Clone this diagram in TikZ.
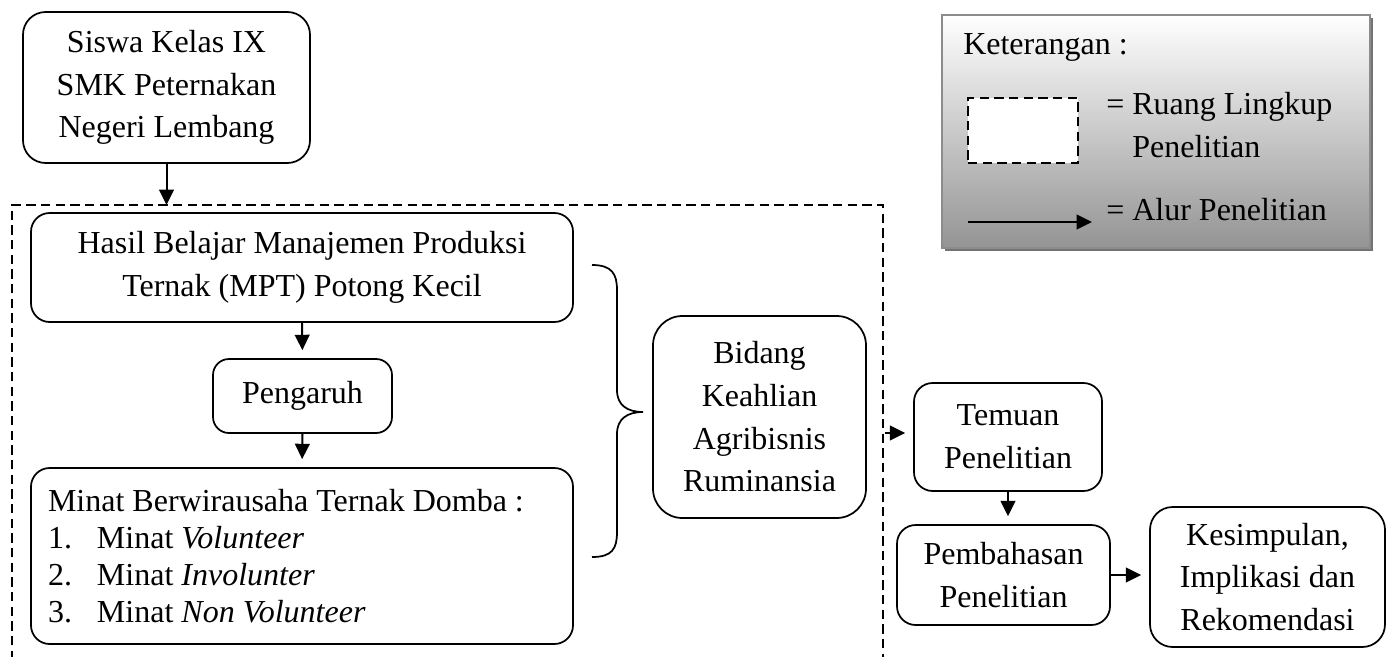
\documentclass[tikz,border=0pt]{standalone}
\usepackage{fontspec}
\setmainfont{Liberation Serif}
\usetikzlibrary{arrows.meta,shadows}
\begin{document}
\begin{tikzpicture}[x=0.75pt,y=-0.75pt,
  txt/.style={font=\fontsize{24}{32}\selectfont},
  box/.style={txt, draw, line width=1.3pt, rounded corners=14pt, inner sep=0pt, align=center},
  flow/.style={-{Triangle[length=11.5pt,width=11pt]}, line width=1.5pt, shorten >=6pt},
  scopeline/.style={dash pattern=on 7pt off 4pt, line width=1.5pt},
  lbl/.style={txt, inner sep=0pt}
]
\useasboundingbox (0,0) rectangle (1389,657);

% scope of research (dashed)
\coordinate (sBL) at (12,660);
\coordinate (sTL) at (12,205);
\coordinate (sTR) at (883,205);
\coordinate (sBR) at (883,660);
\draw[scopeline] (sBL) -- (sTL) -- (sTR) -- (sBR);

% boxes
\node[box, minimum width=215.25pt, minimum height=113.25pt, rounded corners=17pt] (siswa) at (166.5,87.5)
  {Siswa Kelas IX\\SMK Peternakan\\Negeri Lembang};
\node[box, minimum width=406.5pt, minimum height=81.75pt] (hasil) at (302,267.5)
  {Hasil Belajar Manajemen Produksi\\Ternak (MPT) Potong Kecil};
\node[box, minimum width=134.25pt, minimum height=55.5pt, rounded corners=12pt] (pengaruh) at (302.5,396) {Pengaruh};
\node[box, minimum width=406.5pt, minimum height=132pt, align=flush left, text width=381pt,
      font=\fontsize{24}{27.75}\selectfont] (minat) at (302,556)
  {Minat Berwirausaha Ternak Domba :\\
   \makebox[36.75pt][l]{1.}Minat \textit{Volunteer}\\
   \makebox[36.75pt][l]{2.}Minat \textit{Involunter}\\
   \makebox[36.75pt][l]{3.}Minat \textit{Non Volunteer}};
\node[box, minimum width=159.75pt, minimum height=151.5pt, rounded corners=22pt] (bidang) at (759.5,417)
  {Bidang\\Keahlian\\Agribisnis\\Ruminansia};
\node[box, minimum width=141pt, minimum height=81pt] (temuan) at (1008,437) {Temuan\\Penelitian};
\node[box, minimum width=159.75pt, minimum height=75pt] (pembahasan) at (1003.5,575) {Pembahasan\\Penelitian};
\node[box, minimum width=176.25pt, minimum height=105pt, rounded corners=17pt] (kesimpulan) at (1267.5,577)
  {Kesimpulan,\\Implikasi dan\\Rekomendasi};

% brace
\draw[line width=1.3pt] (592,265) .. controls (612,265) and (617,274) .. (617,290)
  -- (617,390) .. controls (617,405) and (627,412) .. (643,412)
  .. controls (627,412) and (617,419) .. (617,434)
  -- (617,532) .. controls (617,549) and (612,557) .. (592,557);

% connectors
\draw[flow, shorten >=0pt] (siswa.south) -- (siswa.south |- sTL);
\draw[flow] (hasil.south) -- (pengaruh.north);
\draw[flow] (pengaruh.south) -- (minat.north);
\coordinate (sR) at (885,433);
\draw[flow] (sR) -- (sR -| temuan.west);
\draw[flow] (temuan.south) -- (temuan.south |- pembahasan.north);
\draw[flow] (pembahasan.east) -- (pembahasan.east -| kesimpulan.west);

% legend
\node[minimum width=321pt, minimum height=174.75pt, inner sep=0pt, draw=black!45, line width=1.5pt,
      top color=white, bottom color=black!42,
      drop shadow={shadow xshift=2.5pt, shadow yshift=-2.5pt, fill=black!55, opacity=1}] (legend) at (1156,131.5) {};
\node[lbl, anchor=west] (ket) at (963,47) {Keterangan :};
\node[minimum width=82.5pt, minimum height=48.75pt, inner sep=0pt, draw, fill=white, scopeline, line width=1.3pt] (lgbox) at (1023,130.5) {};
\node[lbl, anchor=north west, align=left] (lgtxt1) at (1106,92) {= Ruang Lingkup\\\phantom{= }Penelitian};
\coordinate (la) at (968,222);
\coordinate (lb) at (1092,222);
\draw[flow, shorten >=0pt] (la) -- (lb);
\node[lbl, anchor=west] (lgtxt2) at (1106,210) {= Alur Penelitian};
\end{tikzpicture}
\end{document}
